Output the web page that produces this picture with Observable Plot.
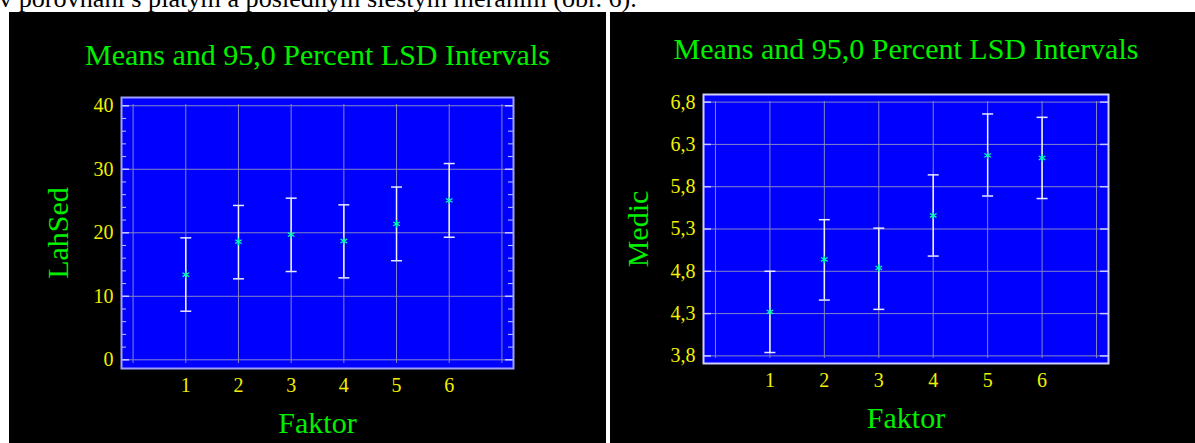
<!DOCTYPE html>
<html>
<head>
<meta charset="utf-8">
<script src="https://cdn.jsdelivr.net/npm/d3@7"></script>
<script src="https://cdn.jsdelivr.net/npm/@observablehq/plot@0.6"></script>
<style>
  html, body { margin: 0; padding: 0; background: #fff; width: 1195px; height: 443px; overflow: hidden; position: relative; }
  #intro { position: absolute; left: -1px; top: -14px; font-family: "Liberation Serif", serif; font-size: 26.2px; line-height: 26px; white-space: nowrap; color: #000; }
  .panel { position: absolute; top: 12px; background: #000; }
  .panel svg { display: block; }
</style>
</head>
<body>
<div id="intro">v porovnaní s piatym a posledným šiestym meraním (obr. 6).</div>
<div class="panel" id="left" style="left:9px;"></div>
<div class="panel" id="right" style="left:610px;"></div>
<script>
// ---- data ----
const factors = [1, 2, 3, 4, 5, 6];
const lahSedMean = [13.4, 18.6, 19.7, 18.7, 21.4, 25.1];
const lahSedLow  = [7.65, 12.75, 13.9, 12.9, 15.6, 19.3];
const lahSedHigh = [19.2, 24.3, 25.45, 24.4, 27.2, 30.9];
const medicMean = [4.32, 4.94, 4.84, 5.46, 6.17, 6.14];
const medicLow  = [3.84, 4.46, 4.35, 4.98, 5.69, 5.66];
const medicHigh = [4.80, 5.41, 5.31, 5.94, 6.66, 6.62];
const xGrid = [0, 1, 2, 3, 4, 5, 6, 7];
const lahSedTicks = [0, 10, 20, 30, 40];
const lahSedMinor = [2, 4, 6, 8, 12, 14, 16, 18, 22, 24, 26, 28, 32, 34, 36, 38];
const medicTicks = [3.8, 4.3, 4.8, 5.3, 5.8, 6.3, 6.8];
const titleText = "Means and 95,0 Percent LSD Intervals";
const xLabel = "Faktor";

const green = "#00f000";
const yellow = "#f0f000";
const capSymbol = {draw(ctx, size) { const r = Math.sqrt(size / Math.PI); ctx.moveTo(-r, 0); ctx.lineTo(r, 0); }};

function panel(o) {
  const rows = factors.map((f, i) => ({f, mean: o.mean[i], lo: o.low[i], hi: o.high[i]}));
  const plotW = o.width - o.ml - o.mr;
  const marks = [
    Plot.frame({fill: "#0000ff"}),
    Plot.ruleX(xGrid, {stroke: "#8484c4", strokeWidth: 1, insetTop: 7, insetBottom: 5}),
    Plot.ruleY(o.ticks, {stroke: "#8484c4", strokeWidth: 1}),
    Plot.tickY(o.ticks, {stroke: "#c8c8ff", strokeWidth: 1.5, insetRight: plotW - 8}),
    Plot.tickY(o.ticks, {stroke: "#c8c8ff", strokeWidth: 1.5, insetLeft: plotW - 8}),
  ];
  if (o.minor) {
    marks.push(Plot.tickY(o.minor, {stroke: "#c8c8ff", strokeWidth: 1, insetRight: plotW - 5}));
    marks.push(Plot.tickY(o.minor, {stroke: "#c8c8ff", strokeWidth: 1, insetLeft: plotW - 5}));
  }
  marks.push(
    Plot.ruleX(rows, {x: "f", y1: "lo", y2: "hi", stroke: "#f0f0ff", strokeWidth: 1.5}),
    Plot.dot(rows, {x: "f", y: "lo", symbol: capSymbol, r: 5.5, fill: "none", stroke: "#e8e8ff", strokeWidth: 1.5}),
    Plot.dot(rows, {x: "f", y: "hi", symbol: capSymbol, r: 5.5, fill: "none", stroke: "#e8e8ff", strokeWidth: 1.5}),
    Plot.dot(rows, {x: "f", y: "mean", symbol: "asterisk", r: 3.6, fill: "none", stroke: "#00ffb0", strokeWidth: 1.2}),
    Plot.frame({stroke: o.frameColor, strokeWidth: 2}),
    Plot.axisY(o.ticks, {tickSize: 0, tickPadding: 8, fontSize: 20, fill: yellow, label: null, tickFormat: o.fmt}),
    Plot.axisX(factors, {tickSize: 0, tickPadding: 9, fontSize: 20, fill: yellow, label: null}),
    Plot.text([titleText], {frameAnchor: "top", dy: o.titleDy, fontSize: 30, fill: green, textAnchor: "middle", lineAnchor: "middle", text: d => d}),
    Plot.text([o.yLabel], {frameAnchor: "left", dx: o.yLabelDx, rotate: -90, fontSize: 30, fill: green, textAnchor: "middle", lineAnchor: "middle", text: d => d}),
    Plot.text([xLabel], {frameAnchor: "bottom", dy: o.xLabelDy, fontSize: 30, fill: green, textAnchor: "middle", lineAnchor: "middle", text: d => d})
  );
  return Plot.plot({
    width: o.width, height: 431,
    marginLeft: o.ml, marginRight: o.mr, marginTop: o.mt, marginBottom: o.mb,
    x: {domain: [-0.22, 7.22]},
    y: {domain: o.domain},
    style: {background: "#000", fontFamily: "'Liberation Serif', 'Times New Roman', serif", overflow: "visible"},
    marks
  });
}

document.getElementById("left").append(panel({
  width: 597, ml: 112, mr: 93, mt: 85, mb: 75,
  domain: [-1.37, 41.3],
  mean: lahSedMean, low: lahSedLow, high: lahSedHigh,
  ticks: lahSedTicks, minor: lahSedMinor, fmt: d => String(d),
  yLabel: "LahSed", yLabelDx: -63, titleDy: -42, xLabelDy: 55,
  frameColor: "#a0a0ff"
}));

document.getElementById("right").append(panel({
  width: 585, ml: 93, mr: 87, mt: 82, mb: 80,
  domain: [3.71, 6.89],
  mean: medicMean, low: medicLow, high: medicHigh,
  ticks: medicTicks, minor: null, fmt: d => d.toFixed(1).replace(".", ","),
  yLabel: "Medic", yLabelDx: -65, titleDy: -45, xLabelDy: 55,
  frameColor: "#d0d0ff"
}));
</script>
</body>
</html>
